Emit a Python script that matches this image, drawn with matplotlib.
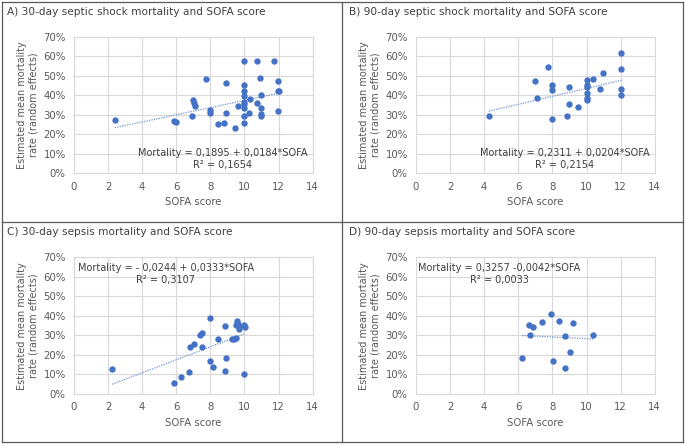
import matplotlib
matplotlib.use("Agg")
import matplotlib.pyplot as plt
from matplotlib.ticker import PercentFormatter, MultipleLocator
from matplotlib.lines import Line2D

# ---------------- data ----------------
titles = [
    "A) 30-day septic shock mortality and SOFA score",
    "B) 90-day septic shock mortality and SOFA score",
    "C) 30-day sepsis mortality and SOFA score",
    "D) 90-day sepsis mortality and SOFA score",
]

a_sofa = [2.39, 5.86, 5.98, 6.99, 7.03, 7.07, 6.95, 7.73, 7.96, 7.96, 8.43, 8.80,
          8.94, 8.94, 9.45, 9.62, 9.95, 9.95, 9.95, 9.95, 9.95, 9.95, 9.95, 9.95,
          9.95, 10.27, 10.34, 10.73, 10.93, 10.75, 10.97, 10.97, 10.97, 10.97,
          11.71, 11.94, 11.94, 12.04, 11.94]
a_mort = [0.274, 0.269, 0.262, 0.377, 0.360, 0.343, 0.293, 0.482, 0.326, 0.307,
          0.254, 0.260, 0.463, 0.308, 0.231, 0.346, 0.573, 0.454, 0.423, 0.396,
          0.367, 0.353, 0.336, 0.295, 0.259, 0.310, 0.380, 0.573, 0.490, 0.358,
          0.403, 0.334, 0.302, 0.291, 0.573, 0.471, 0.423, 0.423, 0.317]

b_sofa = [4.27, 6.98, 7.10, 7.76, 8.00, 8.00, 8.00, 8.86, 8.98, 8.98, 9.49, 10.0,
          10.0, 10.0, 10.0, 10.0, 10.0, 10.39, 10.78, 10.98, 12.04, 12.0, 12.0, 12.0]
b_mort = [0.296, 0.471, 0.387, 0.545, 0.454, 0.426, 0.279, 0.291, 0.444, 0.355,
          0.339, 0.480, 0.452, 0.442, 0.411, 0.384, 0.374, 0.483, 0.434, 0.514,
          0.617, 0.535, 0.434, 0.399]

c_sofa = [2.24, 5.88, 6.27, 6.76, 6.78, 7.02, 7.39, 7.49, 7.49, 8.00, 8.00, 8.16,
          8.47, 8.86, 8.90, 8.84, 9.27, 9.37, 9.49, 9.57, 9.61, 9.53, 9.69, 9.69,
          10.0, 10.04, 10.0]
c_mort = [0.126, 0.055, 0.085, 0.113, 0.241, 0.256, 0.301, 0.311, 0.241, 0.391,
          0.169, 0.137, 0.284, 0.349, 0.183, 0.118, 0.284, 0.280, 0.285, 0.376,
          0.359, 0.356, 0.349, 0.335, 0.354, 0.345, 0.103]

d_sofa = [6.22, 6.69, 6.65, 6.88, 7.39, 7.90, 8.02, 8.39, 8.76, 8.76, 9.03, 9.19, 10.38]
d_mort = [0.184, 0.304, 0.352, 0.345, 0.369, 0.408, 0.171, 0.372, 0.295, 0.133,
          0.215, 0.362, 0.300]

intercepts = [0.1895, 0.2311, -0.0244, 0.3257]
slopes = [0.0184, 0.0204, 0.0333, -0.0042]
equations = [
    "Mortality = 0,1895 + 0,0184*SOFA",
    "Mortality = 0,2311 + 0,0204*SOFA",
    "Mortality = - 0,0244 + 0,0333*SOFA",
    "Mortality = 0,3257 -0,0042*SOFA",
]
r2_labels = ["R² = 0,1654", "R² = 0,2154", "R² = 0,3107", "R² = 0,0033"]

x_label = "SOFA score"
y_label = "Estimated mean mortality\nrate (random effects)"

# ---------------- layout ----------------
W, H = 685, 444
fig = plt.figure(figsize=(W / 100, H / 100), dpi=100)
fig.patch.set_facecolor("white")
plt.rcParams['font.family'] = ['DejaVu Sans']

blue = "#4472C4"
grid_c = "#d9d9d9"
txt_c = "#595959"
frame_c = "#5a5a5a"

ax_w = 0.3485
ax_h = 0.3077
lefts = [0.108, 0.6073, 0.108, 0.6073]
bottoms = [0.6097, 0.6097, 0.1126, 0.1126]
eq_pos = [(8.72, 0.103, 0.043), (8.72, 0.103, 0.043), (5.38, 0.646, 0.583), (4.87, 0.646, 0.583)]
title_pos = [(7 / W, 1 - 12 / H), (349 / W, 1 - 12 / H), (7 / W, 1 - 232 / H), (349 / W, 1 - 232 / H)]

xs = [a_sofa, b_sofa, c_sofa, d_sofa]
ys = [a_mort, b_mort, c_mort, d_mort]

for i in range(4):
    ax = fig.add_axes([lefts[i], bottoms[i], ax_w, ax_h])
    ax.set_xlim(0, 14)
    ax.set_ylim(0, 0.70)
    ax.xaxis.set_major_locator(MultipleLocator(2))
    ax.yaxis.set_major_locator(MultipleLocator(0.1))
    ax.yaxis.set_major_formatter(PercentFormatter(1.0, decimals=0))
    ax.grid(True, color=grid_c, linewidth=0.8)
    ax.set_axisbelow(True)
    for s in ax.spines.values():
        s.set_color(grid_c)
        s.set_linewidth(0.8)
    ax.tick_params(length=0, labelsize=7.3, labelcolor=txt_c, pad=6)

    x = xs[i]
    y = ys[i]
    ax.scatter(x, y, s=21, color=blue, zorder=3, linewidths=0)
    xl = [min(x), max(x)]
    yl = [intercepts[i] + slopes[i] * v for v in xl]
    ax.plot(xl, yl, linestyle=(0, (1, 1)), color="#6f93d6", linewidth=0.9, zorder=2)

    ex, ey1, ey2 = eq_pos[i]
    ax.text(ex, ey1, equations[i], ha="center", va="center", fontsize=7, color="#404040")
    ax.text(ex, ey2, r2_labels[i], ha="center", va="center", fontsize=7, color="#404040")

    ax.text(0.5, -0.21, x_label, transform=ax.transAxes, ha="center", va="center",
            fontsize=7.3, color=txt_c)
    ax.text(-0.193, 0.5, y_label, transform=ax.transAxes, ha="center", va="center",
            rotation=90, fontsize=7, color=txt_c, multialignment="center",
            linespacing=1.15)

    tx, ty = title_pos[i]
    fig.text(tx, ty, titles[i], ha="left", va="center", fontsize=7.6, color="#404040")

def fline(x0, y0, x1, y1):
    fig.add_artist(Line2D([x0 / W, x1 / W], [1 - y0 / H, 1 - y1 / H],
                          color=frame_c, linewidth=0.9, transform=fig.transFigure))

fline(2, 2, 683, 2)
fline(2, 442, 683, 442)
fline(2, 2, 2, 442)
fline(683, 2, 683, 442)
fline(342, 2, 342, 442)
fline(2, 222, 683, 222)

fig.savefig("out.png", dpi=100, facecolor="white")
